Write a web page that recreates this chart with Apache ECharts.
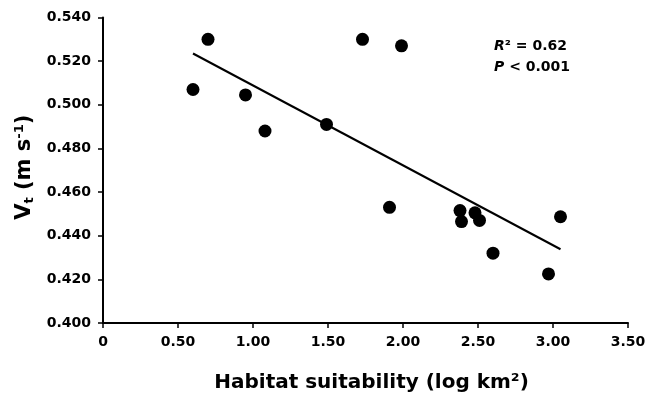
<!DOCTYPE html>
<html><head><meta charset="utf-8">
<script src="https://cdn.jsdelivr.net/npm/echarts@6/dist/echarts.min.js"></script>
<style>html,body{margin:0;padding:0;background:#fff}#c{width:652px;height:397px}</style>
</head><body><div id="c"></div>
<script>
const habitatX = [0.60, 0.70, 0.95, 1.08, 1.49, 1.73, 1.99, 1.91, 2.38, 2.39, 2.48, 2.51, 2.60, 2.97, 3.05];
const velocityY = [0.507, 0.530, 0.5045, 0.488, 0.491, 0.530, 0.527, 0.453, 0.4515, 0.4465, 0.4505, 0.447, 0.432, 0.4225, 0.4487];
const fitX = [0.60, 3.05];
const fitY = [0.5235, 0.4338];
const statLines = ['R² = 0.62', 'P < 0.001'];

const FONT = 'DejaVu Sans';
const chart = echarts.init(document.getElementById('c'));
chart.setOption({
  animation: false,
  backgroundColor: '#fff',
  grid: {left: 103, right: 24, top: 17.5, bottom: 74, containLabel: false, outerBoundsMode: 'none'},
  xAxis: {
    type: 'value', min: 0, max: 3.5, interval: 0.5,
    splitLine: {show: false},
    axisLine: {onZero: false, lineStyle: {color: '#000', width: 2}},
    axisTick: {show: true, length: 5, lineStyle: {color: '#000', width: 1.5}},
    axisLabel: {color: '#000', fontFamily: FONT, fontWeight: 'bold', fontSize: 14, margin: 12,
      formatter: v => v === 0 ? '0' : v.toFixed(2)},
    name: 'Habitat suitability (log km²)',
    nameLocation: 'middle', nameGap: 50,
    nameTextStyle: {color: '#000', fontFamily: FONT, fontWeight: 'bold', fontSize: 20, padding: [0, 0, 0, 12]}
  },
  yAxis: {
    type: 'value', min: 0.4, max: 0.54, interval: 0.02,
    splitLine: {show: false},
    axisLine: {show: true, onZero: false, lineStyle: {color: '#000', width: 2}},
    axisTick: {show: true, length: 5, lineStyle: {color: '#000', width: 1.5}},
    axisLabel: {color: '#000', fontFamily: FONT, fontWeight: 'bold', fontSize: 14, margin: 12,
      formatter: v => v.toFixed(3)},
    name: '{m|V}{s|t}{m| (m s}{p|-1}{m|)}',
    nameLocation: 'middle', nameGap: 66,
    nameTextStyle: {
      color: '#000', fontFamily: FONT, fontWeight: 'bold', fontSize: 21,
      padding: [0, 0, 0, 6],
      rich: {
        m: {fontFamily: FONT, fontWeight: 'bold', fontSize: 21, color: '#000'},
        s: {fontFamily: FONT, fontWeight: 'bold', fontSize: 13, color: '#000', verticalAlign: 'bottom', padding: [10, 0, 0, 0]},
        p: {fontFamily: FONT, fontWeight: 'bold', fontSize: 13, color: '#000', verticalAlign: 'top', padding: [0, 0, 10, 0]}
      }
    }
  },
  series: [
    {
      type: 'scatter', symbol: 'circle', symbolSize: 13,
      itemStyle: {color: '#000', opacity: 1},
      data: habitatX.map((x, i) => [x, velocityY[i]]),
      z: 3
    },
    {
      type: 'line', symbol: 'none',
      lineStyle: {color: '#000', width: 2},
      data: fitX.map((x, i) => [x, fitY[i]]),
      z: 2
    }
  ],
  graphic: [
    {type: 'text', left: 494, top: 39, style: {
      text: '{i|R}{b|² = 0.62}\n{i|P}{b| < 0.001}',
      rich: {
        i: {fontFamily: FONT, fontWeight: 'bold', fontStyle: 'italic', fontSize: 14, fill: '#000', lineHeight: 21},
        b: {fontFamily: FONT, fontWeight: 'bold', fontSize: 14, fill: '#000', lineHeight: 21}
      }
    }}
  ]
});
</script></body></html>
